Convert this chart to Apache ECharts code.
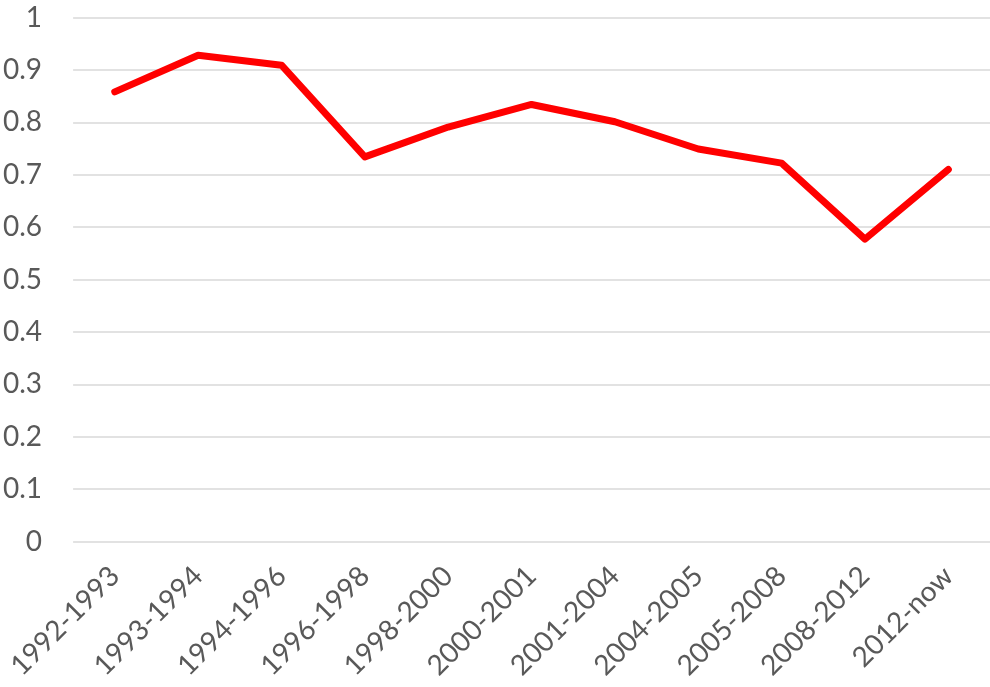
<!DOCTYPE html>
<html>
<head>
<meta charset="utf-8">
<script src="https://cdn.jsdelivr.net/npm/echarts@6/dist/echarts.min.js"></script>
<style>
  html, body { margin: 0; padding: 0; background: #fff; }
  #chart { width: 990px; height: 687px; }
</style>
</head>
<body>
<div id="chart"></div>
<script>
var periods = ['1992-1993', '1993-1994', '1994-1996', '1996-1998', '1998-2000', '2000-2001',
  '2001-2004', '2004-2005', '2005-2008', '2008-2012', '2012-now'];
var ratio = [0.858, 0.928, 0.909, 0.734, 0.791, 0.834, 0.801, 0.749, 0.722, 0.577, 0.710];

var chart = echarts.init(document.getElementById('chart'));
chart.setOption({
  animation: false,
  grid: {
    left: 73,
    right: 0,
    top: 17.5,
    bottom: 145.5
  },
  xAxis: {
    type: 'category',
    data: periods,
    boundaryGap: true,
    axisLine: { show: false },
    axisTick: { show: false },
    axisLabel: {
      rotate: 45,
      margin: 30,
      color: '#595959',
      fontSize: 28,
      fontFamily: 'Lato'
    }
  },
  yAxis: {
    type: 'value',
    min: 0,
    max: 1,
    interval: 0.1,
    axisLine: { show: false },
    axisTick: { show: false },
    axisLabel: {
      margin: 31,
      color: '#595959',
      fontSize: 28,
      fontFamily: 'Lato',
      formatter: function (v) { return String(Math.round(v * 10) / 10); }
    },
    splitLine: { lineStyle: { color: '#d9d9d9', width: 1.5 } }
  },
  series: [{
    type: 'line',
    data: ratio,
    showSymbol: false,
    lineStyle: { color: '#ff0000', width: 7, cap: 'round', join: 'round' }
  }]
});
</script>
</body>
</html>
